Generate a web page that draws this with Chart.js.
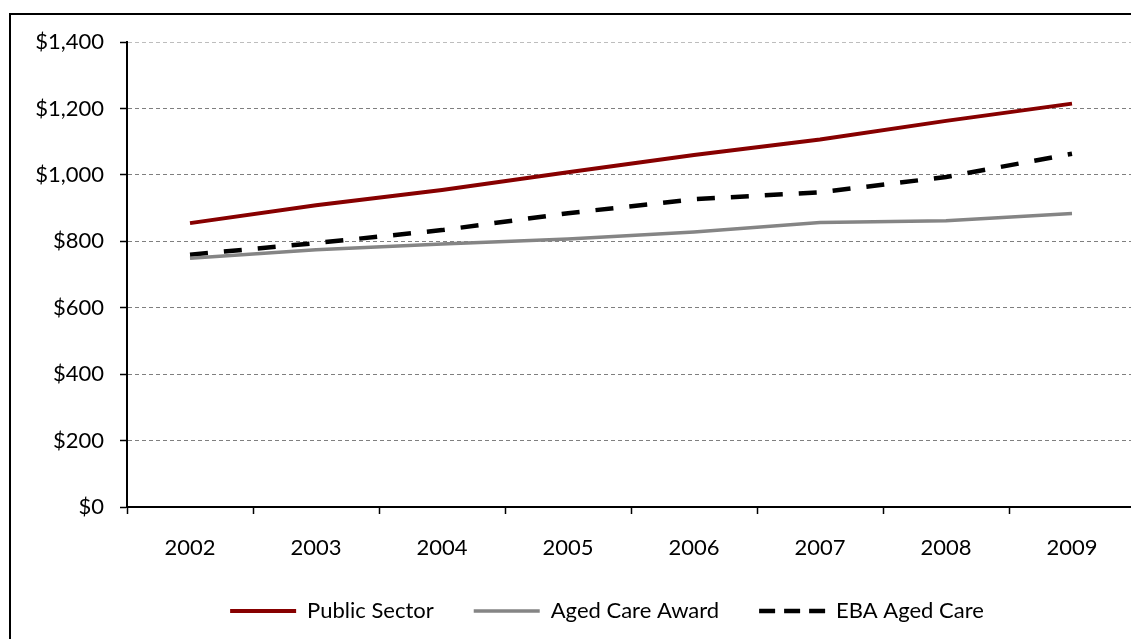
<!DOCTYPE html>
<html>
<head>
<meta charset="utf-8">
<script src="https://cdn.jsdelivr.net/npm/chart.js@4/dist/chart.umd.min.js"></script>
<style>
  html, body { margin: 0; padding: 0; background: #fff; overflow: hidden; }
  #frame {
    position: absolute; left: 9px; top: 13px;
    width: 1200px; height: 640px;
    border-left: 2px solid #000; border-top: 2px solid #000;
  }
  #wages { position: relative; top: -2px; }
</style>
</head>
<body>
<div id="frame"><canvas id="wages" width="1200" height="619"></canvas></div>
<script>
// weekly wage comparison
const years = ['2002', '2003', '2004', '2005', '2006', '2007', '2008', '2009'];
const publicSector = [855, 909, 955, 1008, 1060, 1107, 1163, 1215];
const agedCareAward = [749, 775, 792, 807, 828, 857, 862, 884];
const ebaAgedCare = [760, 795, 834, 885, 927, 948, 994, 1064];
const yTicks = [0, 200, 400, 600, 800, 1000, 1200, 1400];

const font = { family: 'Lato, "Open Sans", sans-serif', size: 22 };

// the legend sits centred under the whole (cropped) chart, a bit right of the canvas middle
const legendShift = {
  id: 'legendShift',
  afterLayout(chart) {
    chart.legend.left += 34;
    chart.legend.right += 34;
  }
};

const ctx = document.getElementById('wages').getContext('2d');
const wageChart = new Chart(ctx, {
  type: 'line',
  data: {
    labels: years,
    datasets: [{
      label: 'Public Sector',
      data: publicSector,
      borderColor: '#870000',
      backgroundColor: '#870000',
      borderWidth: 4,
      pointRadius: 0,
      tension: 0
    }, {
      label: 'Aged Care Award',
      data: agedCareAward,
      borderColor: '#858585',
      backgroundColor: '#858585',
      borderWidth: 3.5,
      pointRadius: 0,
      tension: 0
    }, {
      label: 'EBA Aged Care',
      data: ebaAgedCare,
      borderColor: '#000',
      backgroundColor: '#000',
      borderWidth: 4.5,
      borderDash: [18, 16],
      pointRadius: 0,
      tension: 0
    }]
  },
  plugins: [legendShift],
  options: {
    responsive: false,
    animation: false,
    layout: {
      padding: { top: 22, right: 76, left: 0, bottom: 0 }
    },
    plugins: {
      legend: {
        position: 'bottom',
        labels: {
          usePointStyle: true,
          pointStyleWidth: 66,
          padding: 40,
          color: '#000',
          font: font,
          // legend swatches as short lines, keeping the dash of each series
          generateLabels: chart => chart.data.datasets.map((ds, i) => ({
            text: ds.label,
            datasetIndex: i,
            pointStyle: 'line',
            strokeStyle: ds.borderColor,
            fillStyle: ds.borderColor,
            lineWidth: ds.borderWidth,
            lineDash: ds.borderDash ? [16, 9] : [],
            fontColor: '#000',
            hidden: false
          }))
        }
      },
      tooltip: { enabled: false }
    },
    scales: {
      x: {
        offset: true,
        afterFit: scale => { scale.height = 53; },
        grid: {
          offset: true,
          drawOnChartArea: false,
          tickColor: '#000',
          tickLength: 7,
          tickWidth: 1.5
        },
        border: { color: '#000', width: 2 },
        ticks: { color: '#000', font: font, padding: 21 }
      },
      y: {
        min: 0,
        max: 1400,
        afterFit: scale => { scale.width = 116; },
        afterBuildTicks: scale => { scale.ticks = yTicks.map(v => ({ value: v })); },
        grid: {
          color: c => c.tick && c.tick.value === 1400 ? '#bdbdbd' : '#7f7f7f',
          lineWidth: 1,
          tickColor: '#000',
          tickLength: 7,
          tickWidth: 1.5,
          tickBorderDash: []
        },
        border: { color: '#000', width: 2, dash: [4, 3] },
        ticks: {
          color: '#000',
          font: font,
          padding: 16,
          callback: v => '$' + v.toLocaleString('en-US')
        }
      }
    }
  }
});
</script>
</body>
</html>
